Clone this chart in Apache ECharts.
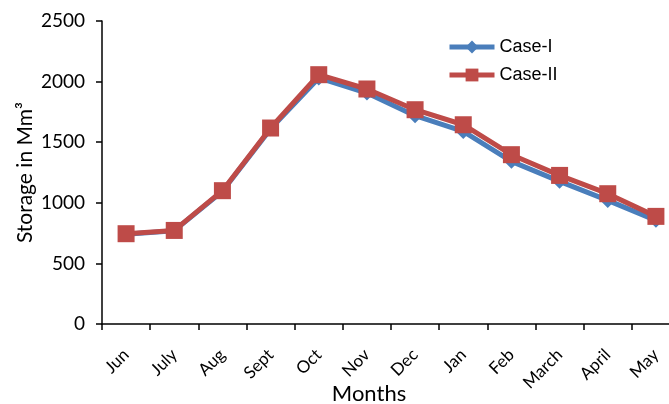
<!DOCTYPE html>
<html>
<head>
<meta charset="utf-8">
<script src="https://cdn.jsdelivr.net/npm/echarts@6/dist/echarts.min.js"></script>
<style>
html,body{margin:0;padding:0;background:#fff;}
#chart{width:669px;height:404px;}
</style>
</head>
<body>
<div id="chart"></div>
<script>
var months = ['Jun','July','Aug','Sept','Oct','Nov','Dec','Jan','Feb','March','April','May'];
var caseI  = [740, 770, 1095, 1610, 2030, 1906, 1719, 1589, 1342, 1177, 1020, 855];
var caseII = [745, 772, 1100, 1617, 2057, 1939, 1768, 1644, 1397, 1226, 1075, 888];
var yTicks = [0, 500, 1000, 1500, 2000, 2500];

var chart = echarts.init(document.getElementById('chart'));
var labelFont = 'Lato, "Open Sans", sans-serif';
chart.setOption({
  animation: false,
  backgroundColor: '#fff',
  grid: {left: 102, top: 21, bottom: 80, right: -11, containLabel: false, outerBoundsMode: 'none'},
  legend: {
    orient: 'vertical',
    left: 442,
    top: 33,
    itemWidth: 45,
    itemHeight: 16,
    itemGap: 10,
    lineStyle: {width: 5},
    textStyle: {fontFamily: '"Liberation Sans", Arial, sans-serif', fontSize: 18, color: '#000'},
    data: ['Case-I', 'Case-II']
  },
  xAxis: {
    type: 'category',
    data: months,
    boundaryGap: true,
    name: 'Months',
    nameLocation: 'middle',
    nameGap: 59,
    nameMoveOverlap: false,
    nameTextStyle: {fontFamily: labelFont, fontSize: 22, color: '#000', padding: [0, 44, 0, 0]},
    axisLine: {lineStyle: {color: '#000', width: 1.5}},
    axisTick: {show: true, length: 6, inside: false, lineStyle: {color: '#000', width: 1.5}},
    axisLabel: {rotate: 45, fontFamily: labelFont, fontSize: 17, color: '#000', margin: 28, interval: 0},
    splitLine: {show: false}
  },
  yAxis: {
    type: 'value',
    min: yTicks[0],
    max: yTicks[yTicks.length - 1],
    interval: 500,
    name: 'Storage in Mm³',
    nameLocation: 'middle',
    nameGap: 66,
    nameMoveOverlap: false,
    nameTextStyle: {fontFamily: labelFont, fontSize: 21, color: '#000'},
    axisLine: {show: true, lineStyle: {color: '#000', width: 1.5}},
    axisTick: {show: true, length: 6, inside: false, lineStyle: {color: '#000', width: 1.5}},
    axisLabel: {fontFamily: labelFont, fontSize: 19, color: '#000', margin: 17, formatter: function (v) { return String(v); }},
    splitLine: {show: false}
  },
  series: [
    {
      name: 'Case-I',
      type: 'line',
      data: caseI,
      symbol: 'diamond',
      symbolSize: 15,
      lineStyle: {color: '#4a7ebb', width: 5},
      itemStyle: {color: '#4a7ebb'},
      z: 2
    },
    {
      name: 'Case-II',
      type: 'line',
      data: caseII,
      symbol: 'rect',
      symbolSize: 17,
      lineStyle: {color: '#be4b48', width: 5},
      itemStyle: {color: '#be4b48'},
      z: 3
    }
  ]
});
</script>
</body>
</html>
